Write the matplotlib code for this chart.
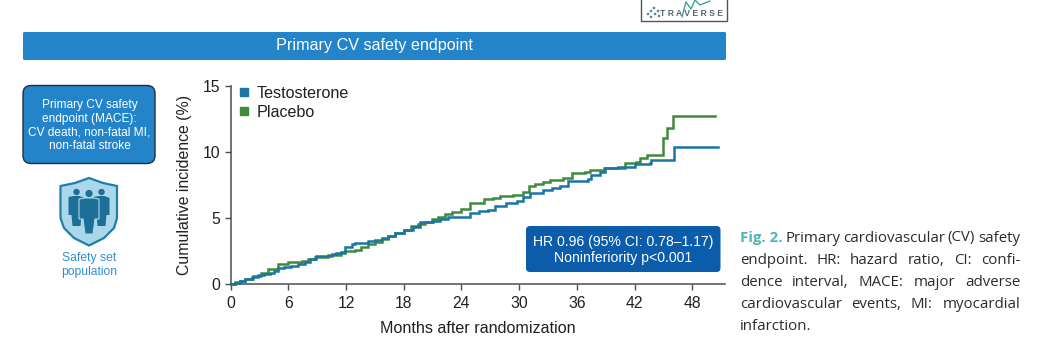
import matplotlib
matplotlib.use('Agg')
import matplotlib.pyplot as plt
from matplotlib.lines import Line2D
from matplotlib.patches import Circle, FancyBboxPatch, Polygon

plt.rcParams['font.family'] = ['Liberation Sans', 'DejaVu Sans']

# Data
testo_months = [0, 0.5, 1, 1.5, 2.2, 2.9, 3.5, 4.1, 4.5, 4.9, 5.6, 6.3, 7, 7.7, 8.3, 8.9, 10.5, 11, 11.5, 11.9,
                12.6, 12.9, 14.3, 15, 15.7, 16.4, 17.1, 18, 19, 19.7, 21.1, 21.8, 22.6, 24, 24.9, 25.8, 26.8,
                27.5, 28.6, 29.8, 30.4, 31.1, 32.5, 33.4, 34.3, 35.1, 37.2, 37.5, 38.4, 38.9, 40.3, 42, 43.6,
                43.7, 46.1]
testo_values = [0, 0.1, 0.25, 0.38, 0.52, 0.68, 0.75, 0.81, 1.0, 1.19, 1.3, 1.38, 1.52, 1.69, 1.9, 2.14, 2.24, 2.33,
                2.44, 2.77, 3.0, 3.12, 3.27, 3.36, 3.45, 3.65, 3.88, 4.07, 4.28, 4.66, 4.76, 4.9, 5.04, 5.09, 5.39,
                5.48, 5.59, 5.9, 6.1, 6.3, 6.55, 6.85, 7.1, 7.25, 7.41, 7.81, 7.94, 8.24, 8.49, 8.79, 8.87, 9.05,
                9.12, 9.37, 10.38]
placebo_months = [0, 0.5, 1, 1.5, 2.3, 3.2, 3.9, 4.9, 6, 7.4, 8.1, 8.8, 10.1, 11.5, 11.9, 12.9, 13.6, 14.3, 15, 15.7,
                  16.4, 17.1, 18, 18.8, 19.5, 20.2, 20.9, 21.6, 22.3, 23, 24, 24.9, 26.3, 27.3, 28, 29.4, 30.4,
                  31, 31.7, 32.5, 33.2, 34.6, 35.5, 36.9, 37.4, 38.8, 41, 42.2, 42.6, 43.3, 45, 45.4, 46]
placebo_values = [0, 0.12, 0.25, 0.38, 0.6, 0.81, 1.13, 1.49, 1.69, 1.76, 1.88, 2.02, 2.19, 2.32, 2.5, 2.57, 2.8, 3.02,
                  3.2, 3.38, 3.6, 3.83, 4.1, 4.38, 4.55, 4.71, 4.9, 5.09, 5.28, 5.47, 5.67, 6.14, 6.4, 6.52, 6.67,
                  6.73, 6.98, 7.41, 7.56, 7.7, 7.86, 7.99, 8.37, 8.44, 8.62, 8.74, 9.12, 9.25, 9.5, 9.75, 11.0, 11.77,
                  12.7]
testo_end = 50.7
placebo_end = 50.4
x_ticks = [0, 6, 12, 18, 24, 30, 36, 42, 48]
y_ticks = [0, 5, 10, 15]

BLUE = '#2384c9'
W, H = 1043, 362

fig = plt.figure(figsize=(W / 100, H / 100), dpi=100)

# Kaplan-Meier panel
ax = fig.add_axes([230.5 / W, 1 - 284 / H, 494.5 / W, 198.5 / H])
ax.plot(testo_months + [testo_end], testo_values + [testo_values[-1]], drawstyle='steps-post',
        color='#1a74a6', lw=1.8, zorder=3, solid_joinstyle='miter', clip_on=False)
ax.plot(placebo_months + [placebo_end], placebo_values + [placebo_values[-1]], drawstyle='steps-post',
        color='#3f8a3c', lw=1.8, zorder=2, solid_joinstyle='miter', clip_on=False)
ax.set_xlim(0, 494.5 / 9.62)
ax.set_ylim(0, 15)
ax.set_xticks(x_ticks)
ax.set_yticks(y_ticks)
ax.spines[['top', 'right']].set_visible(False)
ax.spines[['left', 'bottom']].set_color('#4d4d4f')
ax.spines[['left', 'bottom']].set_linewidth(1.1)
ax.tick_params(length=4, width=1, color='#4d4d4f', labelsize=11.3, labelcolor='#231f20')
ax.tick_params(axis='x', pad=4.5)
ax.set_xlabel('Months after randomization', fontsize=11.6, color='#231f20', labelpad=7)
ax.set_ylabel('Cumulative incidence (%)', fontsize=11.4, color='#231f20')
ax.yaxis.set_label_coords(-0.078, 0.497)
handles = [Line2D([], [], ls='', marker='s', ms=6, color='#1a74a6'),
           Line2D([], [], ls='', marker='s', ms=6, color='#3f8a3c')]
ax.legend(handles, ['Testosterone', 'Placebo'], loc='upper left', bbox_to_anchor=(0.011, 1.0), frameon=False,
          fontsize=11.6, labelspacing=0.25, handletextpad=0.3, handlelength=1.0, borderpad=0, borderaxespad=0,
          labelcolor='#231f20')

# Everything around the chart lives on an overlay in pixel coordinates
ov = fig.add_axes([0, 0, 1, 1])
ov.set_xlim(0, W)
ov.set_ylim(H, 0)
ov.axis('off')
ov.patch.set_alpha(0)


def box(x0, y0, x1, y1, face, edge='none', lw=0, r=2):
    ov.add_patch(FancyBboxPatch((x0 + r, y0 + r), x1 - x0 - 2 * r, y1 - y0 - 2 * r,
                                boxstyle=f'round,pad={r},rounding_size={r}', fc=face, ec=edge, lw=lw))


box(23, 32, 726, 60, BLUE, r=1.5)
ov.text(374.5, 45.5, 'Primary CV safety endpoint', color='white', fontsize=11.6, ha='center', va='center')

box(23, 85.5, 155, 163.5, BLUE, edge='#1f2f3f', lw=1, r=8)
ov.text(89.5, 125.5, 'Primary CV safety\nendpoint (MACE):\nCV death, non-fatal MI,\nnon-fatal stroke',
        color='white', fontsize=8.55, ha='center', va='center', linespacing=1.17)

box(526, 226, 720.5, 272, '#0b5cab', r=4)
ov.text(623.5, 250, 'HR 0.96 (95% CI: 0.78\u20131.17)\nNoninferiority p<0.001', color='white',
        fontsize=10.1, ha='center', va='center', linespacing=1.15)

# Shield icon
shield = [(89, 178), (75, 183), (60.5, 186), (60.5, 218), (64, 228), (74, 238), (89, 245.5), (104, 238),
          (114, 228), (117, 218), (117, 186), (103, 183)]
ov.add_patch(Polygon(shield, closed=True, fc='#abd7ea', ec='#1f7fa6', lw=1.6))
for hx, hy, r in [(76.5, 192, 3.2), (89, 193.5, 3.6), (101.5, 192, 3.2)]:
    ov.add_patch(Circle((hx, hy), r, fc='#1d6f97', ec='none'))
side_body = [(-8, 6), (-3, 5), (3, 5), (8, 7), (8, 24), (5, 24), (4, 35), (-4, 35), (-5, 24), (-8, 24)]
mid_body = [(-10, 6), (-4, 5), (4, 5), (10, 6), (10, 26), (6, 26), (4, 41), (-4, 41), (-6, 26), (-10, 26)]
for cx in [76.5, 101.5]:
    ov.add_patch(Polygon([(cx + px, 191 + py) for px, py in side_body], fc='#1d6f97', ec='none'))
ov.add_patch(Polygon([(89 + px, 193 + py) for px, py in mid_body], fc='#1d6f97', ec='#abd7ea', lw=0.8))
ov.text(89.5, 265, 'Safety set\npopulation', color='#2f8fd0', fontsize=8.7, ha='center', va='center',
        linespacing=1.17)

# Trial logo, cut off at the top of the page
ov.plot([641, 641, 726.5, 726.5], [0, 21, 21, 0], color='#555555', lw=1)
ov.text(692, 13, 'T R A V E R S E', color='#5b6670', fontsize=6.2, ha='center', va='center',
        fontweight='bold')
ov.plot([682, 686, 691, 695, 700, 710], [17, 2, 9, 0, 5, 1], color='#2b9aa0', lw=0.9)
for dx, dy in [(648, 14), (651, 11), (654, 8), (655, 14), (658, 11), (651, 17), (659, 16)]:
    ov.add_patch(Circle((dx, dy), 1.3, fc='#4a8f9e', ec='none'))

# Justified caption
caption_font = dict(family='Open Sans', fontsize=10.8, va='center', color='#2b2b2b')
caption_left, caption_right = 740, 1020
caption_lines = [(238, 'Fig. 2.|Primary cardiovascular (CV) safety', True),
                 (260, 'endpoint. HR: hazard ratio, CI: confi-', True),
                 (282, 'dence interval, MACE: major adverse', True),
                 (304, 'cardiovascular events, MI: myocardial', True),
                 (326, 'infarction.', False)]
renderer = fig.canvas.get_renderer()
for y, line, justify in caption_lines:
    pieces = []
    if '|' in line:
        head, line = line.split('|')
        pieces.append(ov.text(0, y, head, **{**caption_font, 'color': '#52b4b4', 'fontweight': 'bold'}))
    pieces += [ov.text(0, y, word, **caption_font) for word in line.split()]
    widths = [p.get_window_extent(renderer).width for p in pieces]
    gap = (caption_right - caption_left - sum(widths)) / (len(pieces) - 1) if justify else 4
    x = caption_left
    for p, w in zip(pieces, widths):
        p.set_x(x)
        x += w + gap

fig.savefig('out.png', dpi=100)
